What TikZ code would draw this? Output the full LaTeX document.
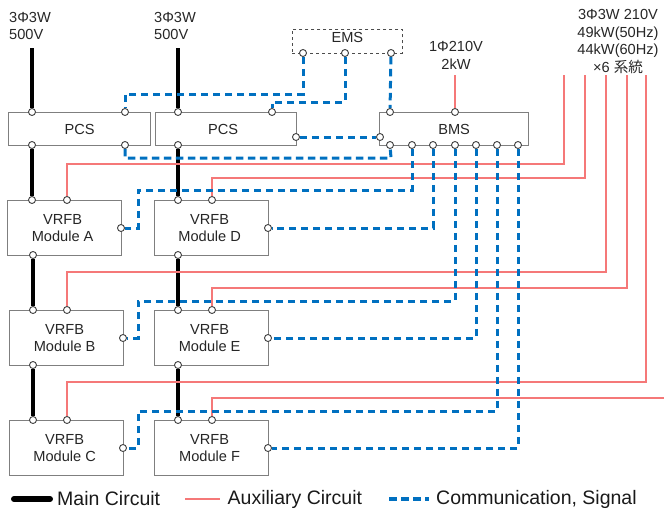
\documentclass[tikz,border=0pt]{standalone}
\usepackage{fontspec}
\setmainfont{Liberation Sans}
\newfontfamily\cjk{Noto Sans CJK JP}

\begin{document}
\begin{tikzpicture}[x=1pt,y=-1pt,
    labeltext/.style={font=\fontsize{14.6}{17.6}\selectfont,align=center,inner sep=0pt,text=black!85},
    box/.style={draw=boxColour,line width=1.2pt,fill=white,inner sep=0pt,anchor=north west},
    pcsbox/.style={box,minimum width=142pt,minimum height=33pt},
    modulebox/.style={box,minimum width=114pt,minimum height=55pt},
    boxtext/.style={labeltext,xshift=-2pt},
    terminal/.style={circle,draw=black!75,line width=0.9pt,fill=white,inner sep=0pt,minimum size=7pt},
    mainline/.style={line width=4pt,black},
    auxline/.style={line width=1.2pt,auxColour},
    signal/.style={line width=3pt,signalColour,dash pattern=on 7.5pt off 4.5pt},
    legendtext/.style={font=\fontsize{19.5}{22}\selectfont,inner sep=0pt,anchor=west,text=black!90}]
    \definecolor{boxColour}{HTML}{7F7F7F}
    \definecolor{auxColour}{HTML}{F57878}
    \definecolor{signalColour}{HTML}{0070C0}

    \useasboundingbox (0,0) rectangle (664,509);

    % Draw PCS, BMS and EMS
    \node[pcsbox,label={[labeltext]center:PCS}] (pcsL) at (8,112) {};
    \node[pcsbox,minimum width=141pt,label={[labeltext,xshift=-3pt]center:PCS}] (pcsR) at (155,112) {};
    \node[box,minimum width=149pt,minimum height=33pt,label={[labeltext]center:BMS}] (bms) at (379,112) {};
    \node[box,draw=black!70,line width=0.7pt,dashed,minimum width=110pt,minimum height=24pt,
        label={[labeltext,yshift=4pt]center:EMS}] (ems) at (292,29) {};

    % Draw VRFB modules
    \foreach \name/\x/\y in {A/7/200,B/9/310,C/9/420,D/154/200,E/154/310,F/154/420}
        \node[modulebox,label={[boxtext]center:{VRFB\\Module \name}}] (mod\name) at (\x,\y) {};

    % Define terminals on the modules
    \foreach \name/\xmain/\xaux/\y/\xright in {A/32/67/200/121,B/33/67/310/123,C/33/67/420/123,D/178/212/200/268,E/178/212/310/268,F/178/212/420/268} {
        \node[terminal] (main\name) at (\xmain,\y) {};
        \node[terminal] (aux\name) at (\xaux,\y) {};
        \node[terminal] (right\name) at (\xright,\y+28) {};
    }
    \node[terminal] (bottomA) at (33,255) {};
    \node[terminal] (bottomB) at (33,365) {};
    \node[terminal] (bottomD) at (178,255) {};
    \node[terminal] (bottomE) at (178,365) {};

    % Define terminals on PCS, BMS and EMS
    \node[terminal] (pcsLin) at (32,112) {};
    \node[terminal] (pcsLout) at (32,145) {};
    \node[terminal] (pcsLtop) at (125,112) {};
    \node[terminal] (pcsLbot) at (125,145) {};
    \node[terminal] (pcsRin) at (178,112) {};
    \node[terminal] (pcsRout) at (178,145) {};
    \node[terminal] (pcsRtop) at (272,112) {};
    \node[terminal] (pcsRside) at (296,137) {};
    \node[terminal] (bmsSide) at (380,137) {};
    \node[terminal] (bmsEms) at (390,112) {};
    \node[terminal] (bmsPower) at (455,112) {};
    \foreach \name/\x in {Pcs/390,A/412,D/433,B/455,E/476,C/497,F/518}
        \node[terminal] (bms\name) at (\x,145) {};
    \node[terminal] (emsL) at (303,53) {};
    \node[terminal] (emsM) at (345,53) {};
    \node[terminal] (emsR) at (391,53) {};

    % Supply labels
    \node[labeltext,align=left,anchor=north west] (supplyL) at (9,12) {3Φ3W\\500V};
    \node[labeltext,align=left,anchor=north west] (supplyR) at (154,12) {3Φ3W\\500V};
    \node[labeltext] (supplyBms) at (456,55.5) {1Φ210V\\2kW};
    \node[labeltext] (supplyAux) at (618,41.5) {3Φ3W 210V\\49kW(50Hz)\\44kW(60Hz)\\×6 {\cjk 系統}};

    % Free ends of the supply lines
    \coordinate (acL) at (32,48);
    \coordinate (acR) at (178,48);
    \coordinate (feedBms) at (455,75);
    \coordinate (feedA) at (564,75);
    \coordinate (feedD) at (585,75);
    \coordinate (feedB) at (606,75);
    \coordinate (feedE) at (627,75);
    \coordinate (feedC) at (646,75);
    \coordinate (feedF) at (664,398);

    % Draw main circuit
    \foreach \from/\to in {acL/pcsLin,pcsLout/mainA,bottomA/mainB,bottomB/mainC,acR/pcsRin,pcsRout/mainD,bottomD/mainE,bottomE/mainF}
        \draw[mainline] (\from) -- (\to);

    % Draw auxiliary circuit
    \draw[auxline] (feedBms) -- (bmsPower);
    \foreach \name/\y in {A/164,D/178,B/272,E/288,C/382,F/398}
        \draw[auxline] (feed\name) |- (aux\name |- 0,\y) -- (aux\name);

    % Draw communication between EMS, PCS and BMS
    \draw[signal] (emsL) |- (125,94) -- (pcsLtop);
    \draw[signal] (emsM) |- (272,102) -- (pcsRtop);
    \draw[signal] (emsR) -- (bmsEms);
    \draw[signal] (pcsRside) -- (bmsSide);
    \draw[signal] (pcsLbot) |- (391,158) -- (bmsPcs);

    % Draw communication between BMS and modules
    \foreach \name/\y in {A/190,B/301,C/411}
        \draw[signal] (bms\name) |- (138,\y) |- (right\name);
    \foreach \name in {D,E,F}
        \draw[signal] (bms\name) |- (right\name);

    % Draw legend
    \coordinate (legendMainA) at (14,499);
    \coordinate (legendMainB) at (50,499);
    \coordinate (legendAuxA) at (185,499);
    \coordinate (legendAuxB) at (220,499);
    \coordinate (legendSigA) at (389,499);
    \coordinate (legendSigB) at (429,499);
    \draw[mainline,line width=6pt,line cap=round] (legendMainA) -- (legendMainB);
    \draw[auxline,line width=1.5pt] (legendAuxA) -- (legendAuxB);
    \draw[signal,line width=3.4pt] (legendSigA) -- (legendSigB);
    \node[legendtext] (legendMain) at (57,499) {Main Circuit};
    \node[legendtext] (legendAux) at (227.5,499) {Auxiliary Circuit};
    \node[legendtext] (legendSig) at (436,499) {Communication, Signal};

\end{tikzpicture}
\end{document}
